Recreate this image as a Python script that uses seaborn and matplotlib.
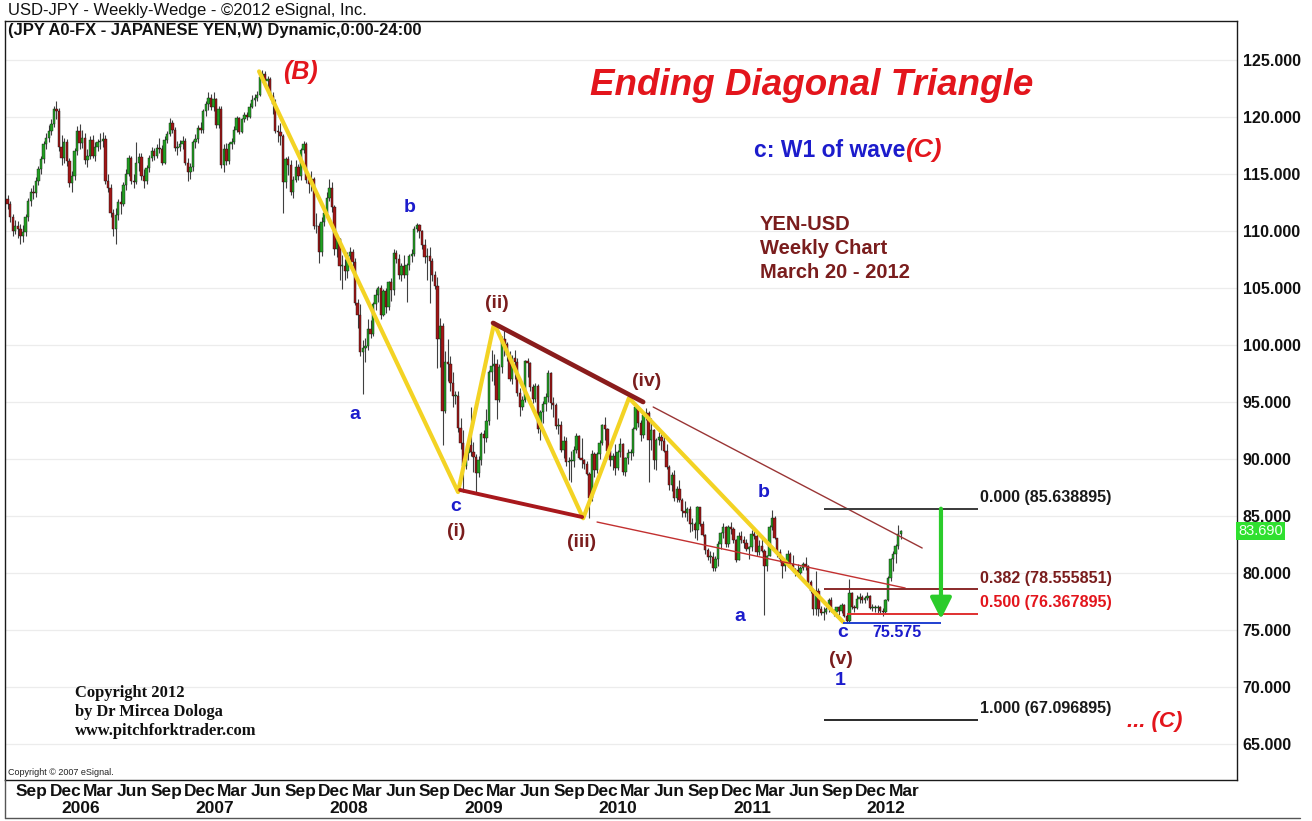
import numpy as np
import pandas as pd
import matplotlib
matplotlib.use("Agg")
import matplotlib.pyplot as plt
import matplotlib.transforms as mtransforms
from matplotlib import font_manager
import seaborn as sns

# ---------------- data (weekly USD-JPY candles, week 0 = 2005-07-25) ----------------
START = "2005-07-25"

open_ = [
    112.8, 112.4, 111.2, 110.0, 110.4, 110.2, 109.6, 109.9, 111.2, 112.6,
    113.4, 113.3, 114.4, 115.4, 116.3, 117.6, 118.2, 118.8, 119.4, 120.7,
    120.5, 117.4, 116.4, 117.8, 116.1, 114.2, 114.8, 117.0, 118.8, 117.7,
    118.2, 116.2, 116.6, 118.0, 116.6, 117.4, 117.8, 117.9, 118.1, 114.4,
    113.8, 111.6, 110.2, 111.4, 112.5, 112.4, 114.0, 115.0, 116.4, 114.4,
    114.3, 116.0, 116.5, 114.8, 114.4, 115.5, 116.4, 117.0, 116.6, 117.3,
    117.2, 116.0, 118.0, 118.5, 119.5, 118.9, 117.3, 117.4, 117.6, 117.9,
    116.0, 115.2, 115.6, 117.8, 118.1, 119.0, 118.9, 120.5, 121.1, 121.7,
    120.9, 121.6, 119.3, 120.7, 115.8, 117.2, 116.1, 117.6, 117.8, 118.9,
    119.9, 118.7, 119.8, 120.2, 120.0, 120.9, 121.5, 121.7, 121.9, 123.5,
    123.8, 123.2, 123.3, 121.8, 121.1, 118.8, 118.7, 118.3, 114.3, 116.3,
    115.8, 113.4, 114.5, 115.6, 114.8, 117.1, 117.6, 114.5, 114.1, 114.6,
    110.4, 110.4, 108.2, 110.8, 111.6, 112.9, 113.8, 112.1, 108.4, 109.3,
    106.9, 106.9, 106.5, 107.8, 108.2, 107.3, 103.7, 102.6, 99.4, 99.7,
    99.9, 101.4, 101.0, 103.6, 104.4, 105.0, 102.6, 104.7, 103.3, 105.5,
    104.8, 108.1, 107.5, 106.1, 106.9, 106.1, 107.0, 107.8, 108.0, 110.2,
    110.5, 110.0, 108.8, 107.7, 107.8, 107.4, 106.1, 105.2, 100.5, 101.7,
    94.2, 98.5, 98.3, 96.7, 95.5, 95.5, 92.7, 91.4, 89.4, 90.5,
    91.2, 90.6, 90.2, 88.8, 89.9, 92.2, 91.8, 93.3, 97.6, 98.2,
    98.3, 95.2, 98.1, 100.5, 100.1, 99.1, 97.0, 98.9, 98.5, 95.8,
    94.6, 95.2, 98.6, 98.4, 96.3, 95.3, 96.4, 92.6, 94.1, 94.8,
    95.4, 97.5, 94.9, 94.7, 92.9, 93.0, 90.8, 91.6, 89.7, 89.8,
    89.8, 90.8, 92.0, 90.1, 89.9, 89.6, 88.7, 86.6, 90.4, 89.0,
    90.4, 91.4, 93.0, 92.6, 90.7, 89.9, 90.3, 89.2, 90.6, 91.3,
    88.9, 90.1, 90.5, 90.5, 92.6, 94.6, 93.2, 92.1, 93.9, 94.0,
    91.7, 92.5, 89.9, 91.7, 91.9, 91.6, 90.7, 89.3, 87.7, 88.6,
    86.6, 87.4, 86.4, 85.4, 85.3, 85.6, 84.3, 84.3, 83.8, 85.8,
    84.3, 83.3, 82.0, 81.4, 81.4, 80.4, 81.2, 82.5, 83.5, 84.0,
    82.5, 84.0, 83.9, 82.9, 81.1, 83.2, 82.9, 82.6, 82.1, 82.3,
    83.4, 83.2, 81.8, 82.4, 81.9, 80.6, 81.5, 84.0, 84.8, 83.1,
    81.8, 81.2, 80.6, 80.9, 81.7, 80.8, 80.3, 80.3, 80.0, 80.4,
    80.8, 80.6, 79.2, 78.4, 76.8, 78.4, 76.8, 76.5, 76.6, 76.8,
    77.6, 76.7, 76.6, 77.0, 76.7, 77.2, 76.2, 75.8, 78.2, 77.0,
    76.9, 77.7, 77.9, 77.6, 77.8, 78.0, 76.9, 76.9, 76.9, 77.0,
    76.7, 76.6, 77.6, 79.6, 81.2, 81.7, 82.4, 83.4,
]

high_ = [
    113.2, 112.6, 111.5, 111.0, 110.9, 110.6, 110.5, 111.5, 112.9, 113.8,
    114.0, 114.7, 115.7, 116.6, 117.9, 118.6, 119.3, 119.8, 121.0, 121.4,
    120.8, 118.4, 118.2, 118.1, 116.4, 115.3, 117.3, 119.2, 119.4, 118.9,
    118.6, 117.2, 118.3, 118.4, 117.8, 118.1, 118.6, 118.7, 118.4, 115.0,
    114.1, 111.9, 112.0, 112.8, 113.5, 114.3, 115.4, 116.7, 116.6, 115.0,
    117.8, 116.8, 116.8, 115.4, 115.8, 116.7, 117.4, 117.3, 117.6, 118.2,
    117.5, 118.3, 118.8, 119.9, 119.7, 119.1, 117.9, 118.0, 118.3, 118.2,
    116.4, 116.0, 118.0, 118.5, 119.3, 119.6, 120.7, 121.4, 122.2, 122.0,
    122.2, 121.7, 121.0, 121.0, 117.6, 117.7, 117.8, 118.2, 119.2, 120.1,
    120.0, 119.9, 120.4, 120.4, 121.2, 121.9, 122.0, 122.3, 123.7, 124.1,
    124.0, 123.6, 123.5, 122.2, 121.6, 119.3, 119.5, 118.5, 116.5, 116.6,
    116.2, 114.8, 116.2, 115.9, 117.3, 117.9, 117.8, 115.0, 115.3, 114.7,
    111.6, 110.7, 111.2, 111.9, 113.4, 114.6, 114.3, 112.3, 109.7, 109.4,
    107.9, 107.5, 108.2, 108.6, 108.4, 107.6, 104.0, 103.6, 100.4, 100.6,
    102.3, 102.2, 103.8, 104.9, 105.2, 105.3, 104.9, 105.0, 105.6, 105.9,
    108.4, 108.3, 108.0, 107.2, 107.9, 107.2, 108.0, 108.4, 110.4, 110.7,
    110.6, 110.1, 109.3, 108.5, 108.6, 107.6, 106.5, 106.0, 102.4, 101.9,
    99.5, 100.5, 99.0, 97.6, 96.0, 96.0, 93.6, 92.5, 91.2, 91.7,
    94.6, 91.5, 90.4, 90.3, 92.4, 92.5, 94.4, 97.8, 99.6, 99.2,
    98.8, 98.3, 100.8, 101.4, 100.3, 99.5, 99.1, 99.6, 98.9, 96.2,
    95.5, 98.7, 98.9, 98.5, 96.6, 96.7, 96.6, 94.3, 95.1, 95.8,
    97.8, 97.6, 95.4, 94.9, 93.6, 93.3, 92.0, 91.9, 90.2, 90.7,
    91.1, 92.3, 92.1, 91.8, 90.0, 89.8, 88.9, 90.8, 90.6, 90.6,
    91.7, 93.1, 93.7, 92.7, 91.0, 90.5, 91.3, 90.8, 91.8, 91.4,
    90.2, 90.9, 90.9, 92.8, 94.8, 94.6, 93.4, 94.0, 94.5, 94.2,
    93.6, 92.6, 91.8, 92.4, 92.2, 92.0, 91.3, 89.5, 88.9, 89.0,
    87.6, 88.2, 86.6, 86.3, 85.8, 85.9, 84.8, 84.5, 85.9, 85.8,
    84.6, 83.4, 82.2, 81.9, 81.8, 81.5, 82.8, 83.6, 84.4, 84.1,
    84.2, 84.5, 84.0, 83.0, 83.6, 83.7, 83.2, 83.0, 82.4, 83.8,
    84.0, 83.4, 82.9, 83.3, 82.1, 81.6, 84.2, 85.5, 85.0, 83.1,
    82.1, 81.3, 81.2, 82.0, 81.8, 81.6, 80.4, 80.8, 80.6, 81.0,
    81.4, 80.7, 79.4, 78.5, 80.2, 78.7, 77.1, 77.0, 77.0, 77.8,
    77.9, 76.8, 77.0, 77.1, 77.4, 77.3, 76.5, 79.5, 78.3, 77.2,
    78.1, 78.2, 78.1, 78.0, 78.3, 78.1, 77.3, 77.2, 77.2, 77.1,
    76.9, 77.7, 79.7, 81.3, 81.9, 82.5, 84.2, 83.8,
]

low_ = [
    111.9, 110.8, 109.6, 109.7, 109.4, 108.9, 109.0, 109.6, 110.9, 112.2,
    112.8, 113.0, 114.0, 115.0, 116.0, 117.2, 117.8, 118.4, 119.1, 119.8,
    117.0, 115.8, 116.0, 115.7, 113.9, 113.4, 114.5, 116.7, 117.2, 117.3,
    115.9, 115.6, 116.3, 116.4, 116.1, 117.0, 117.2, 117.4, 114.1, 113.4,
    111.2, 109.6, 108.9, 111.0, 111.5, 112.2, 113.6, 114.8, 114.1, 113.8,
    114.1, 115.3, 114.5, 113.8, 114.1, 115.2, 116.1, 116.2, 116.4, 116.8,
    115.8, 115.9, 117.7, 118.3, 118.6, 117.0, 116.7, 117.0, 117.2, 115.8,
    114.4, 114.6, 115.3, 117.3, 117.7, 118.6, 118.6, 120.1, 120.6, 120.6,
    120.5, 119.0, 119.0, 115.5, 115.2, 115.8, 115.9, 117.2, 117.6, 118.7,
    118.5, 118.6, 119.6, 119.7, 119.9, 120.8, 121.0, 121.4, 121.8, 123.1,
    122.7, 122.5, 121.6, 120.3, 118.6, 117.8, 117.5, 111.6, 113.8, 114.9,
    113.2, 112.9, 114.3, 114.5, 114.5, 116.8, 114.2, 113.3, 113.5, 110.2,
    109.8, 107.2, 107.8, 110.4, 111.2, 112.6, 111.7, 107.9, 107.7, 105.7,
    104.9, 105.7, 105.9, 107.2, 106.9, 103.5, 101.5, 99.0, 95.7, 98.5,
    99.6, 100.6, 100.8, 103.1, 103.8, 102.3, 102.5, 102.8, 103.1, 103.9,
    104.4, 107.2, 105.8, 105.6, 105.9, 103.8, 106.6, 107.3, 107.8, 109.9,
    109.4, 108.4, 107.2, 105.7, 103.7, 105.6, 104.9, 98.0, 98.1, 91.2,
    94.0, 96.8, 96.0, 94.6, 94.8, 92.4, 90.9, 87.1, 89.1, 89.9,
    90.3, 88.9, 87.1, 88.4, 89.5, 90.5, 91.5, 93.0, 96.8, 96.5,
    93.5, 95.0, 97.5, 99.0, 98.6, 96.8, 96.6, 97.0, 95.5, 93.8,
    94.3, 95.0, 97.2, 96.0, 94.9, 95.0, 92.3, 91.7, 93.2, 94.2,
    95.0, 94.4, 93.7, 92.6, 92.2, 90.6, 90.1, 89.4, 88.2, 88.0,
    89.3, 90.5, 90.0, 89.2, 89.1, 88.6, 84.8, 86.3, 88.4, 88.8,
    90.0, 91.2, 91.7, 90.5, 89.4, 89.0, 88.6, 89.0, 90.2, 88.6,
    88.5, 89.6, 89.9, 90.3, 92.5, 92.8, 91.6, 91.8, 93.4, 88.0,
    90.8, 89.1, 89.0, 91.2, 90.8, 90.6, 89.1, 87.3, 87.2, 86.3,
    86.2, 86.2, 84.9, 84.9, 84.6, 83.6, 83.7, 83.1, 82.9, 84.1,
    83.2, 81.7, 81.1, 80.9, 80.2, 80.2, 80.6, 82.1, 83.1, 82.3,
    82.3, 83.4, 82.6, 81.0, 81.1, 82.6, 82.2, 81.9, 81.2, 81.9,
    83.0, 81.5, 81.6, 81.8, 76.3, 80.2, 81.5, 83.8, 83.0, 81.4,
    81.0, 79.6, 80.2, 80.5, 80.5, 80.1, 79.7, 79.9, 79.6, 80.3,
    80.3, 78.9, 78.2, 76.3, 76.3, 76.2, 76.3, 75.9, 76.4, 76.6,
    76.6, 76.2, 76.1, 76.3, 76.5, 76.1, 75.6, 75.575, 76.8, 76.6,
    76.8, 77.4, 77.4, 77.4, 77.6, 76.8, 76.7, 76.6, 76.5, 76.5,
    76.2, 76.4, 77.5, 79.3, 80.2, 80.9, 82.1, 83.0,
]

close_ = [
    112.4, 111.2, 110.0, 110.4, 110.2, 109.6, 109.9, 111.2, 112.6, 113.4,
    113.3, 114.4, 115.4, 116.3, 117.6, 118.2, 118.8, 119.4, 120.7, 120.5,
    117.4, 116.4, 117.8, 116.1, 114.2, 114.8, 117.0, 118.8, 117.7, 118.2,
    116.2, 116.6, 118.0, 116.6, 117.4, 117.8, 117.9, 118.1, 114.4, 113.8,
    111.6, 110.2, 111.4, 112.5, 112.4, 114.0, 115.0, 116.4, 114.4, 114.3,
    116.0, 116.5, 114.8, 114.4, 115.5, 116.4, 117.0, 116.6, 117.3, 117.2,
    116.0, 118.0, 118.5, 119.5, 118.9, 117.3, 117.4, 117.6, 117.9, 116.0,
    115.2, 115.6, 117.8, 118.1, 119.0, 118.9, 120.5, 121.1, 121.7, 120.9,
    121.6, 119.3, 120.7, 115.8, 117.2, 116.1, 117.6, 117.8, 118.9, 119.9,
    118.7, 119.8, 120.2, 120.0, 120.9, 121.5, 121.7, 121.9, 123.5, 123.8,
    123.2, 123.3, 121.8, 121.1, 118.8, 118.7, 118.3, 114.3, 116.3, 115.8,
    113.4, 114.5, 115.6, 114.8, 117.1, 117.6, 114.5, 114.1, 114.6, 110.4,
    110.4, 108.2, 110.8, 111.6, 112.9, 113.8, 112.1, 108.4, 109.3, 106.9,
    106.9, 106.5, 107.8, 108.2, 107.3, 103.7, 102.6, 99.4, 99.7, 99.9,
    101.4, 101.0, 103.6, 104.4, 105.0, 102.6, 104.7, 103.3, 105.5, 104.8,
    108.1, 107.5, 106.1, 106.9, 106.1, 107.0, 107.8, 108.0, 110.2, 110.5,
    110.0, 108.8, 107.7, 107.8, 107.4, 106.1, 105.2, 100.5, 101.7, 94.2,
    98.5, 98.3, 96.7, 95.5, 95.5, 92.7, 91.4, 89.4, 90.5, 91.2,
    90.6, 90.2, 88.8, 89.9, 92.2, 91.8, 93.3, 97.6, 98.2, 98.3,
    95.2, 98.1, 100.5, 100.1, 99.1, 97.0, 98.9, 98.5, 95.8, 94.6,
    95.2, 98.6, 98.4, 96.3, 95.3, 96.4, 92.6, 94.1, 94.8, 95.4,
    97.5, 94.9, 94.7, 92.9, 93.0, 90.8, 91.6, 89.7, 89.8, 89.8,
    90.8, 92.0, 90.1, 89.9, 89.6, 88.7, 86.6, 90.4, 89.0, 90.4,
    91.4, 93.0, 92.6, 90.7, 89.9, 90.3, 89.2, 90.6, 91.3, 88.9,
    90.1, 90.5, 90.5, 92.6, 94.6, 93.2, 92.1, 93.9, 94.0, 91.7,
    92.5, 89.9, 91.7, 91.9, 91.6, 90.7, 89.3, 87.7, 88.6, 86.6,
    87.4, 86.4, 85.4, 85.3, 85.6, 84.3, 84.3, 83.8, 85.8, 84.3,
    83.3, 82.0, 81.4, 81.4, 80.4, 81.2, 82.5, 83.5, 84.0, 82.5,
    84.0, 83.9, 82.9, 81.1, 83.2, 82.9, 82.6, 82.1, 82.3, 83.4,
    83.2, 81.8, 82.4, 81.9, 80.6, 81.5, 84.0, 84.8, 83.1, 81.8,
    81.2, 80.6, 80.9, 81.7, 80.8, 80.3, 80.3, 80.0, 80.4, 80.8,
    80.6, 79.2, 78.4, 76.8, 78.4, 76.8, 76.5, 76.6, 76.8, 77.6,
    76.7, 76.6, 77.0, 76.7, 77.2, 76.2, 75.8, 78.2, 77.0, 76.9,
    77.7, 77.9, 77.6, 77.8, 78.0, 76.9, 76.9, 76.9, 77.0, 76.7,
    76.6, 77.6, 79.6, 81.2, 81.7, 82.4, 83.4, 83.69,
]

last_price = 83.690
price_ticks = [65, 70, 75, 80, 85, 90, 95, 100, 105, 110, 115, 120, 125]

# Fibonacci levels drawn on the chart
fib_ratios = ["0.000", "0.382", "0.500", "1.000"]
fib_values = [85.638895, 78.555851, 76.367895, 67.096895]
wave_low = 75.575

# Elliott-wave pivots (week index, price)
zig_w = [97.7, 175.0, 189.0, 223.6, 241.4, 324.6]
zig_p = [124.0, 87.1, 101.9, 84.8, 95.35, 75.7]
upper_w, upper_p = [188.6, 246.9], [101.93, 95.0]
lower_w, lower_p = [175.8, 223.2], [87.28, 84.91]
upper_ext_w, upper_ext_p = [250.8, 355.3], [94.56, 82.19]
lower_ext_w, lower_ext_p = [229.0, 348.7], [84.47, 78.68]

# ---------------- styling ----------------
sns.set_theme(style="white")
names = {f.name for f in font_manager.fontManager.ttflist}
SANS = "Liberation Sans" if "Liberation Sans" in names else "DejaVu Sans"
NARROW = "Liberation Sans Narrow" if "Liberation Sans Narrow" in names else SANS
SERIF = "Liberation Serif" if "Liberation Serif" in names else "DejaVu Serif"
plt.rcParams["font.family"] = [SANS, "DejaVu Sans"]

BLUE = "#1c1ccc"
DRED = "#7a1d1d"
RED = "#e3151c"
YELLOW = "#f3d324"
GREEN_C = "#22a022"
RED_C = "#a11616"

df = pd.DataFrame({"open": open_, "high": high_, "low": low_, "close": close_})
df["week"] = np.arange(len(df))
df["up"] = df["close"] >= df["open"]

fig = plt.figure(figsize=(13.12, 8.21), dpi=100)
fig.patch.set_facecolor("white")
ax = fig.add_axes([5 / 1312, 41 / 821, 1232 / 1312, 759 / 821])
ax.set_facecolor("white")
ax.set_xlim(-1, 477.6)
ax.set_ylim(61.84, 128.42)

# faint horizontal grid
for p in price_ticks:
    ax.axhline(p, color="#ececec", lw=0.9, zorder=0)

# candles
ax.vlines(df["week"], df["low"], df["high"], color="#404040", lw=0.8, zorder=2)
body_bottom = np.minimum(df["open"], df["close"])
body_h = np.maximum(np.abs(df["close"] - df["open"]), 0.08)
ax.bar(df["week"], body_h, bottom=body_bottom, width=0.92,
       color=np.where(df["up"], GREEN_C, RED_C), edgecolor="#151515",
       linewidth=0.3, zorder=3)

# wave lines (seaborn)
sns.lineplot(x=zig_w, y=zig_p, sort=False, estimator=None, color=YELLOW,
             lw=3.0, ax=ax, zorder=4, legend=False)
sns.lineplot(x=upper_w, y=upper_p, sort=False, estimator=None, color="#8a1c1c",
             lw=3.4, ax=ax, zorder=5, legend=False)
sns.lineplot(x=lower_w, y=lower_p, sort=False, estimator=None, color="#a8181c",
             lw=2.8, ax=ax, zorder=5, legend=False)
sns.lineplot(x=upper_ext_w, y=upper_ext_p, sort=False, estimator=None,
             color="#9a3535", lw=1.0, ax=ax, zorder=5, legend=False)
sns.lineplot(x=lower_ext_w, y=lower_ext_p, sort=False, estimator=None,
             color="#c23030", lw=1.0, ax=ax, zorder=5, legend=False)

# fibonacci lines
fib_colors = ["#3a3a3a", "#8a2a2a", "#e03030", "#2a2a2a"]
fib_text_colors = ["#1a1a1a", DRED, RED, "#1a1a1a"]
fib_start = [317.2, 317.2, 326.1, 317.2]
for r, v, c, tc, s in zip(fib_ratios, fib_values, fib_colors, fib_text_colors, fib_start):
    ax.hlines(v, s, 377.0, color=c, lw=1.4, zorder=5)
    ax.text(377.8, v + 1.0, f"{r} ({v:.6f})", color=tc, fontsize=11.6,
            fontweight="bold", ha="left", va="center", zorder=6)
ax.hlines(wave_low, 324.6, 362.6, color="#2040d0", lw=1.4, zorder=5)
ax.annotate("", xy=(362.6, 75.95), xytext=(362.6, fib_values[0]),
            arrowprops=dict(arrowstyle="-|>", color="#2bcc2b", lw=3,
                            mutation_scale=32, shrinkA=0, shrinkB=0), zorder=6)

# wave labels
def lab(x, y, s, color, size=14, style="normal"):
    ax.text(x, y, s, color=color, fontsize=size, fontweight="bold",
            fontstyle=style, ha="center", va="center", zorder=7)

lab(113.6, 123.95, "(B)", RED, 18, "italic")
lab(156.3, 112.02, "b", BLUE)
lab(135.0, 93.86, "a", BLUE)
lab(174.2, 85.79, "c", BLUE)
lab(174.2, 83.6, "(i)", DRED)
lab(190.1, 103.6, "(ii)", DRED)
lab(222.8, 82.63, "(iii)", DRED)
lab(248.4, 96.84, "(iv)", DRED)
lab(293.9, 87.02, "b", BLUE)
lab(284.5, 76.14, "a", BLUE)
lab(324.6, 74.82, "c", BLUE)
lab(323.8, 72.37, "(v)", DRED)
lab(323.4, 70.53, "1", BLUE)
lab(345.5, 74.82, "75.575", BLUE, 11.5)
lab(445.8, 66.93, "... (C)", RED, 16, "italic")

ax.text(312.5, 122.8, "Ending Diagonal Triangle", color=RED, fontsize=26.5,
        fontweight="bold", fontstyle="italic", ha="center", va="center", zorder=7)
ax.text(348.7, 117.1, "c: W1 of wave", color=BLUE, fontsize=16.5,
        fontweight="bold", ha="right", va="center", zorder=7)
ax.text(348.7, 117.1, "(C)", color=RED, fontsize=19, fontweight="bold",
        fontstyle="italic", ha="left", va="center", zorder=7)
for yy, s in zip([110.53, 108.42, 106.4], ["YEN-USD", "Weekly Chart", "March 20 - 2012"]):
    ax.text(292.3, yy, s, color=DRED, fontsize=14.5, fontweight="bold",
            ha="left", va="center", zorder=7)

for yy, s in zip([69.47, 67.8, 66.14],
                 ["Copyright 2012", "by Dr Mircea Dologa", "www.pitchforktrader.com"]):
    ax.text(26.2, yy, s, color="#111111", fontsize=11.9, fontweight="bold",
            family=SERIF, ha="left", va="center", zorder=7)
ax.text(0.2, 62.46, "Copyright \u00a9 2007 eSignal.", color="#222222", fontsize=6.5,
        ha="left", va="center", zorder=7)

# axes / ticks
start_ts = pd.Timestamp(START)
month_dates = pd.date_range("2005-09-01", "2012-03-01", freq="3MS")
month_pos = [(d - start_ts).days / 7.0 + 4.0 for d in month_dates]
ax.set_xticks(month_pos)
ax.set_xticklabels([d.strftime("%b") for d in month_dates], fontsize=12.5,
                   fontweight="bold", family=NARROW)
ax.tick_params(axis="x", length=0, pad=3, colors="#111111")
xform = mtransforms.blended_transform_factory(ax.transData, ax.transAxes)
for yr in range(2006, 2013):
    pos = (pd.Timestamp(f"{yr}-01-01") - start_ts).days / 7.0 + 5.5
    ax.text(pos, -0.038, str(yr), transform=xform, fontsize=12.5, fontweight="bold",
            family=NARROW, ha="center", va="center", color="#111111")

ax.yaxis.tick_right()
ax.set_yticks(price_ticks)
ax.set_yticklabels([f"{p:.3f}" for p in price_ticks], fontsize=11.5, fontweight="bold")
ax.tick_params(axis="y", length=0, pad=4, colors="#111111")
yform = mtransforms.blended_transform_factory(ax.transAxes, ax.transData)
ax.text(1.001, last_price, f"{last_price:.3f}", transform=yform, fontsize=10.5,
        color="#f4fff4", ha="left", va="center", zorder=8,
        bbox=dict(boxstyle="square,pad=0.12", fc="#2fe02f", ec="none"))

for sp in ax.spines.values():
    sp.set_visible(True)
    sp.set_color("#1a1a1a")
    sp.set_linewidth(1.0)

# header texts
fig.text(8 / 1312, 1 - 11 / 821, "USD-JPY - Weekly-Wedge - \u00a92012 eSignal, Inc.",
         fontsize=12, color="#111111", ha="left", va="center")
fig.text(8 / 1312, 1 - 30 / 821, "(JPY A0-FX - JAPANESE YEN,W) Dynamic,0:00-24:00",
         fontsize=11.9, fontweight="bold", color="#111111", ha="left", va="center")

# frame of the date band
fig.add_artist(plt.Line2D([5 / 1312, 1300 / 1312], [1 - 818 / 821, 1 - 818 / 821],
                          color="#555555", lw=1.0))
fig.add_artist(plt.Line2D([5 / 1312, 5 / 1312], [1 - 818 / 821, 1 - 780 / 821],
                          color="#555555", lw=1.0))

fig.savefig("out.png", dpi=100, facecolor="white")
